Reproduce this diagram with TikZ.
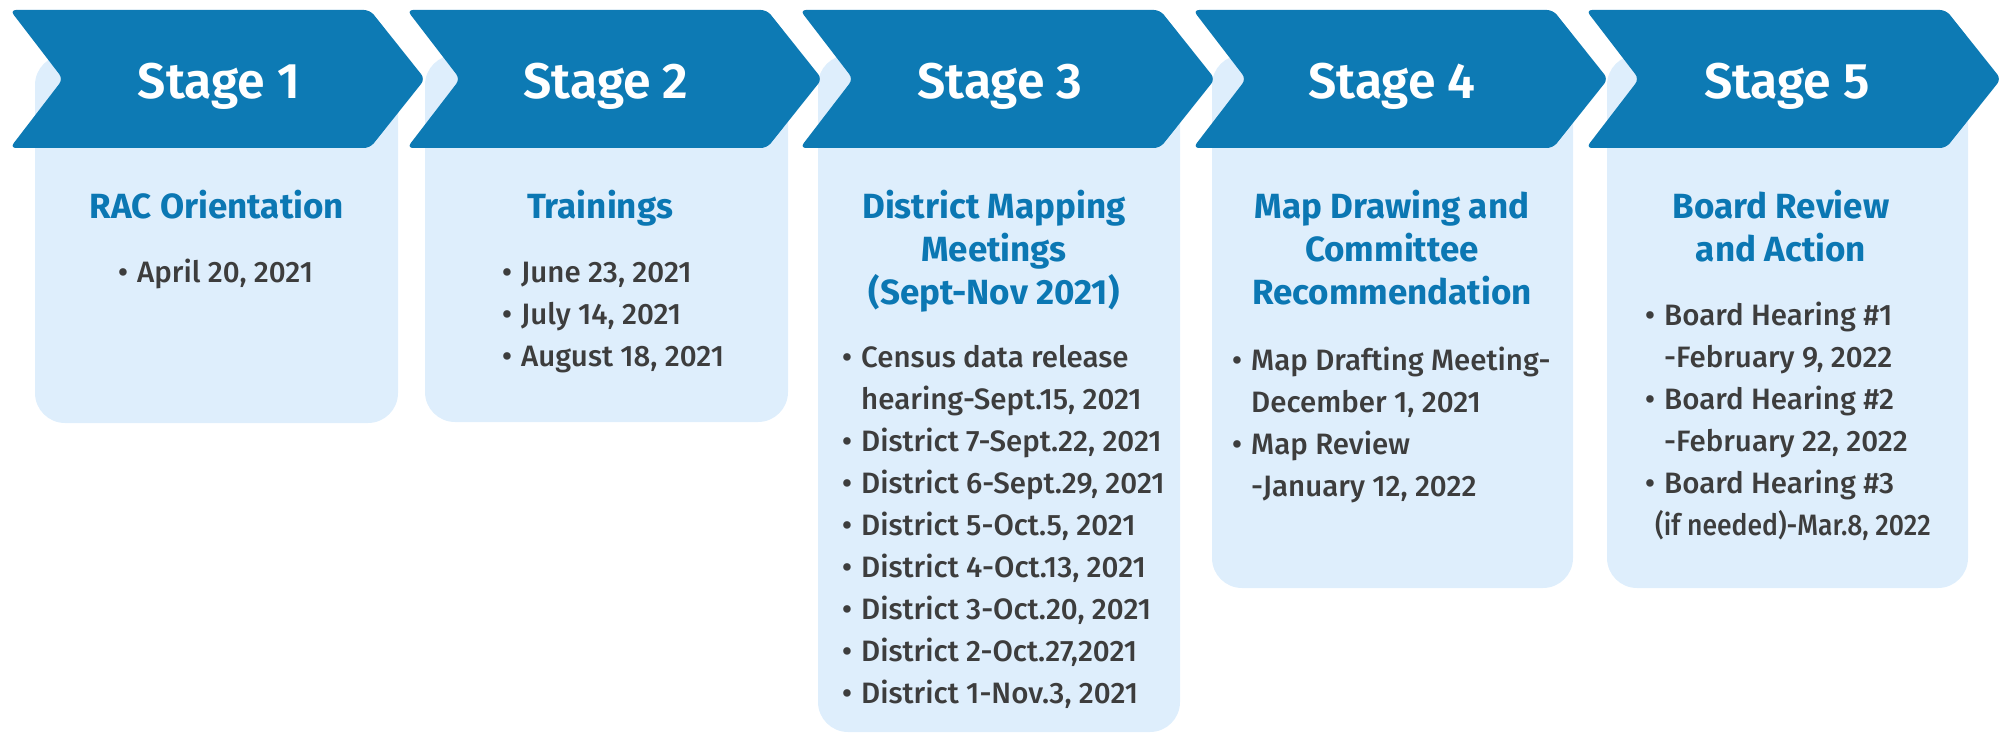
\documentclass[tikz,border=0pt]{standalone}
\usepackage{fontspec}
\usepackage{graphicx}
\setmainfont{Fira Sans}
\newfontfamily\stagefont{Fira Sans SemiBold}
\newfontfamily\bodyfont{Fira Sans Medium}
\definecolor{chev}{HTML}{0D7AB4}
\definecolor{cardbg}{HTML}{DEEEFC}
\definecolor{titleblue}{HTML}{0B77B3}
\definecolor{bodygray}{HTML}{3D3D3D}
\newcommand{\bl}{\makebox[19pt][l]{•}}
\newcommand{\cl}{\hspace*{19pt}}
\tikzset{
  chevron/.style={fill=chev, rounded corners=6pt},
  card/.style={fill=cardbg, rounded corners=30pt},
  stagetxt/.style={text=white, font=\stagefont\fontsize{50}{60}\selectfont, anchor=base, inner sep=0pt},
  titletxt/.style={text=titleblue, font=\bfseries\fontsize{35}{43}\selectfont, align=center, anchor=base, inner sep=0pt},
  bullets/.style={text=bodygray, font=\bodyfont\fontsize{29.5}{42}\selectfont, align=left, anchor=base west, inner sep=0pt},
}
\begin{document}
\begin{tikzpicture}[x=1pt,y=-1pt]
\useasboundingbox (0,0) rectangle (2011,733);
% cards
\foreach \l/\r/\b in {35/398/423, 425/788/422, 818/1180/732, 1212/1573/588, 1607/1968/588}{
  \path[card] (\l,55) rectangle (\r,\b);
}
% chevrons
\foreach \L in {10,407,800,1193,1586}{
  \path[chevron] (\L,10) -- (\L+360,10) -- (\L+415,79) -- (\L+360,148) -- (\L,148) -- (\L+53,79) -- cycle;
}
% stage labels
\node[stagetxt] (s1) at (219,99) {Stage 1};
\node[stagetxt] (s2) at (606,99) {Stage 2};
\node[stagetxt] (s3) at (1000,99) {Stage 3};
\node[stagetxt] (s4) at (1392,99) {Stage 4};
\node[stagetxt] (s5) at (1787,99) {Stage 5};
% titles (base anchor = baseline of the last line)
\node[titletxt] (t1) at (217,218) {RAC Orientation};
\node[titletxt] (t2) at (600,218) {Trainings};
\node[titletxt] (t3) at (994,304) {District Mapping\\Meetings\\(Sept-Nov 2021)};
\node[titletxt] (t4) at (1392,304) {Map Drawing and\\Committee\\Recommendation};
\node[titletxt] (t5) at (1781,261) {Board Review\\and Action};
% bullet lists (base anchor = baseline of the last line)
\node[bullets] (b1) at (118,282) {\bl April 20, 2021};
\node[bullets] (b2) at (502,366) {\bl June 23, 2021\\\bl July 14, 2021\\\bl August 18, 2021};
\node[bullets] (b3) at (842,703) {\bl Census data release\\\cl hearing-Sept.15, 2021\\\bl District 7-Sept.22, 2021\\\bl District 6-Sept.29, 2021\\\bl District 5-Oct.5, 2021\\\bl District 4-Oct.13, 2021\\\bl District 3-Oct.20, 2021\\\bl District 2-Oct.27,2021\\\bl District 1-Nov.3, 2021};
\node[bullets] (b4) at (1232,496) {\bl Map Drafting Meeting-\\\cl December 1, 2021\\\bl Map Review\\\cl -January 12, 2022};
\node[bullets] (b5) at (1645,535) {\bl Board Hearing \#1\\\cl -February 9, 2022\\\bl Board Hearing \#2\\\cl -February 22, 2022\\\bl Board Hearing \#3\\\hspace*{10pt}\scalebox{0.9}[1]{(if needed)-Mar.8, 2022}};
\end{tikzpicture}
\end{document}
